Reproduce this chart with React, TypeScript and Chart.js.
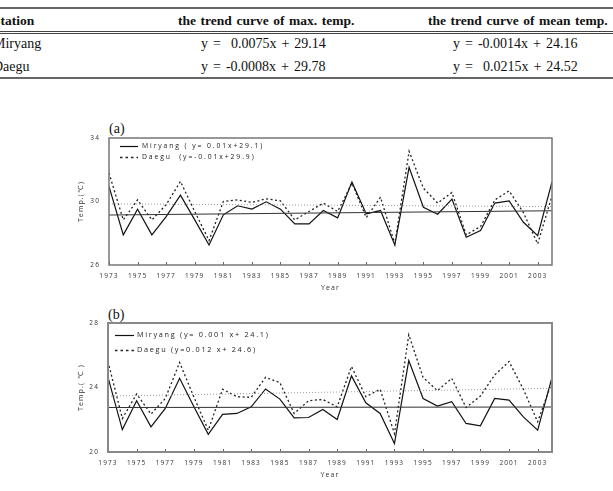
import React, { useEffect, useRef } from "react";
import { Chart, registerables } from "chart.js";
Chart.register(...registerables);

// ---------- data ----------
const years = [1973, 1974, 1975, 1976, 1977, 1978, 1979, 1980, 1981, 1982, 1983, 1984, 1985, 1986, 1987, 1988,
  1989, 1990, 1991, 1992, 1993, 1994, 1995, 1996, 1997, 1998, 1999, 2000, 2001, 2002, 2003, 2004];
const tickYears = [1973, 1975, 1977, 1979, 1981, 1983, 1985, 1987, 1989, 1991, 1993, 1995, 1997, 1999, 2001, 2003];

// (a) maximum temperature
const maxMiryang = [30.95, 27.9, 29.52, 27.9, 29.05, 30.4, 28.84, 27.26, 29.16, 29.73, 29.52, 29.98, 29.52, 28.59, 28.59, 29.43,
  28.97, 31.22, 29.22, 29.43, 27.26, 32.15, 29.64, 29.2, 30.15, 27.75, 28.17, 29.9, 30.04, 28.69, 27.85, 31.24];
const maxDaegu = [31.79, 28.84, 30.1, 28.84, 29.8, 31.26, 29.37, 27.54, 30.0, 30.1, 29.94, 30.17, 30.04, 28.84, 29.37, 29.9,
  29.37, 31.16, 28.99, 30.27, 27.33, 33.16, 30.84, 29.9, 30.57, 27.9, 28.42, 30.1, 30.67, 29.3, 27.33, 30.36];
const maxTrendMiryang = [29.15, 29.42]; // values at 1973 and 2004
const maxTrendDaegu = [29.85, 29.68];
const maxYTicks = [26, 30, 34];
const maxLegend = ["Miryang ( y= 0.01x+29.1)", "Daegu  (y=-0.01x+29.9)"];

// (b) mean temperature
const meanMiryang = [24.63, 21.39, 23.18, 21.56, 22.7, 24.57, 22.8, 21.1, 22.33, 22.39, 22.8, 23.91, 23.28, 22.12, 22.14, 22.64,
  22.02, 24.72, 23.05, 22.39, 20.52, 25.67, 23.32, 22.85, 23.12, 21.77, 21.62, 23.32, 23.22, 22.18, 21.35, 24.63];
const meanDaegu = [25.61, 22.08, 23.6, 22.35, 23.32, 25.55, 23.4, 21.35, 23.89, 23.43, 23.39, 24.63, 24.3, 22.39, 23.18, 23.26,
  22.8, 25.3, 23.43, 23.89, 21.14, 27.27, 24.63, 23.8, 24.57, 22.76, 23.47, 24.78, 25.61, 23.89, 21.87, 24.36];
const meanTrendMiryang = [22.76, 22.79];
const meanTrendDaegu = [23.47, 23.95];
const meanYTicks = [20, 24, 28];
const meanLegend = ["Miryang (y= 0.001 x+ 24.1)", "Daegu (y=0.012 x+ 24.6)"];

// table
const tableHeader = ["Station", "the trend curve of max. temp.", "the trend curve of mean temp."];
const tableRows = [
  ["Miryang", "y =  0.0075x + 29.14", "y = -0.0014x + 24.16"],
  ["Daegu", "y = -0.0008x + 29.78", "y =  0.0215x + 24.52"],
];

const FONT = '"Open Sans", "DejaVu Sans", sans-serif';

const decorPlugin = {
  id: "decor",
  beforeDraw(chart: any) {
    chart.ctx.letterSpacing = "1.1px";
  },
  afterDatasetsDraw(chart: any, _args: any, opts: any) {
    const { ctx, chartArea: ca, scales } = chart;
    ctx.save();
    ctx.letterSpacing = "0px";
    ctx.strokeStyle = "#666";
    ctx.lineWidth = 1;
    ctx.setLineDash([]);
    for (const v of tickYears) {
      const x = Math.round(scales.x.getPixelForValue(v)) + 0.5;
      ctx.beginPath();
      ctx.moveTo(x, ca.bottom);
      ctx.lineTo(x, ca.bottom - 3);
      ctx.stroke();
    }
    ctx.strokeStyle = opts.frameColor;
    ctx.lineWidth = opts.frameWidth;
    ctx.strokeRect(ca.left, ca.top, ca.right - ca.left, ca.bottom - ca.top);

    ctx.letterSpacing = opts.legendSpacing;
    ctx.font = `${opts.legendSize}px ${FONT}`;
    ctx.fillStyle = "#222";
    ctx.textBaseline = "middle";
    ctx.textAlign = "left";
    chart.data.datasets.forEach((ds: any) => {
      if (ds.legendRow === undefined) return;
      const y = ca.top + opts.rowY[ds.legendRow];
      ctx.strokeStyle = ds.borderColor;
      ctx.lineWidth = ds.borderWidth;
      ctx.setLineDash(ds.legendDash || []);
      ctx.beginPath();
      ctx.moveTo(ca.left + opts.sampleX[0], y + 0.5);
      ctx.lineTo(ca.left + opts.sampleX[1], y + 0.5);
      ctx.stroke();
      ctx.setLineDash([]);
      ctx.fillText(ds.label, ca.left + opts.textX, y);
    });
    ctx.restore();
  },
  afterDraw(chart: any) {
    chart.ctx.letterSpacing = "0px";
  },
};

type PanelProps = {
  left: number; top: number; width: number; height: number;
  padTop: number; padRight: number; yAxisWidth: number; xAxisHeight: number;
  miryang: number[]; daegu: number[]; trendM: number[]; trendD: number[];
  yTicks: number[]; legend: string[]; yTitle: string;
  xTickPad: number; xTitlePad: number; yTitlePad: number;
  legendOpts: any; frameWidth: number; frameColor: string;
};

function Panel(p: PanelProps) {
  const ref = useRef<HTMLCanvasElement | null>(null);
  useEffect(() => {
    if (!ref.current) return;
    const pts = (arr: number[]) => arr.map((v, i) => ({ x: years[i], y: v }));
    const trend = (arr: number[]) => [{ x: years[0], y: arr[0] }, { x: years[years.length - 1], y: arr[1] }];
    const chart = new Chart(ref.current, {
      type: "line",
      data: {
        datasets: [
          { label: "trend D", data: trend(p.trendD), borderColor: "#9a9a9a", borderWidth: 1, borderDash: [1, 2], pointRadius: 0 },
          { label: "trend M", data: trend(p.trendM), borderColor: "#333", borderWidth: 1.1, pointRadius: 0 },
          { label: p.legend[1], data: pts(p.daegu), borderColor: "#222", borderWidth: 1.3, borderDash: [2, 2.5], pointRadius: 0, tension: 0, legendRow: 1, legendDash: [2.5, 3] } as any,
          { label: p.legend[0], data: pts(p.miryang), borderColor: "#111", borderWidth: 1.2, pointRadius: 0, tension: 0, legendRow: 0 } as any,
        ],
      },
      options: {
        responsive: false,
        animation: false,
        devicePixelRatio: 1,
        layout: { padding: { top: p.padTop, right: p.padRight, left: 0, bottom: 0 } },
        plugins: {
          legend: { display: false },
          tooltip: { enabled: false },
          decor: { ...p.legendOpts, frameWidth: p.frameWidth, frameColor: p.frameColor },
        } as any,
        scales: {
          x: {
            type: "linear",
            min: years[0],
            max: years[years.length - 1],
            afterBuildTicks: (s: any) => { s.ticks = tickYears.map((v) => ({ value: v })); },
            afterFit: (s: any) => { s.height = p.xAxisHeight; },
            grid: { display: false, drawTicks: false },
            border: { display: false },
            ticks: {
              autoSkip: false, maxRotation: 0, padding: p.xTickPad,
              font: { family: FONT, size: 6.5 }, color: "#333",
              callback: (v: any) => String(v),
            },
            title: { display: true, text: "Year", font: { family: FONT, size: 7 }, color: "#333", padding: { top: 0, bottom: p.xTitlePad } },
          },
          y: {
            type: "linear",
            min: p.yTicks[0],
            max: p.yTicks[p.yTicks.length - 1],
            afterBuildTicks: (s: any) => { s.ticks = p.yTicks.map((v) => ({ value: v })); },
            afterFit: (s: any) => { s.width = p.yAxisWidth; },
            grid: { display: false, drawTicks: false },
            border: { display: false },
            ticks: { padding: 9, font: { family: FONT, size: 6.5 }, color: "#333" },
            title: { display: true, text: p.yTitle, font: { family: FONT, size: 7 }, color: "#333", padding: { top: p.yTitlePad, bottom: 0 } },
          },
        } as any,
      },
      plugins: [decorPlugin as any],
    });
    return () => chart.destroy();
  }, []);
  return (
    <canvas
      ref={ref}
      width={p.width}
      height={p.height}
      style={{ position: "absolute", left: p.left, top: p.top, width: p.width, height: p.height }}
    />
  );
}

const serif = '"Liberation Serif", "Times New Roman", serif';

export default function App() {
  const cell = (text: string, left: number, top: number, bold = false) => (
    <div
      key={`${text}-${left}-${top}`}
      style={{
        position: "absolute", left, top, fontFamily: serif, fontSize: bold ? 13.5 : 14, lineHeight: "16px",
        fontWeight: bold ? "bold" : "normal", whiteSpace: "pre", color: "#111",
        wordSpacing: bold ? 1.2 : 1.5,
      }}
    >
      {text}
    </div>
  );
  const colX = [-7, 178, 428];
  const rowColX = [-7, 201, 453];
  const rowTops = [36.3, 59];
  return (
    <div style={{ position: "absolute", left: 0, top: 0, width: 613, height: 491, background: "#fff", overflow: "hidden" }}>
      {/* table */}
      <div style={{ position: "absolute", left: 0, top: 6.5, width: 613, height: 2, background: "#666" }} />
      {tableHeader.map((h, i) => cell(h, colX[i], 12.6, true))}
      <div style={{ position: "absolute", left: 0, top: 30.5, width: 613, height: 0, borderTop: "3px double #444" }} />
      {tableRows.map((r, ri) => r.map((t, ci) => cell(t, rowColX[ci], rowTops[ri])))}
      <div style={{ position: "absolute", left: 0, top: 76.8, width: 613, height: 2, background: "#666" }} />

      {/* panel labels */}
      <div style={{ position: "absolute", left: 109, top: 120.8, fontFamily: serif, fontSize: 14, lineHeight: "16px", color: "#111" }}>(a)</div>
      <div style={{ position: "absolute", left: 108, top: 306.8, fontFamily: serif, fontSize: 14, lineHeight: "16px", color: "#111" }}>(b)</div>

      <Panel
        left={70} top={110} width={510} height={190}
        padTop={28} padRight={28} yAxisWidth={39} xAxisHeight={35}
        miryang={maxMiryang} daegu={maxDaegu} trendM={maxTrendMiryang} trendD={maxTrendDaegu}
        yTicks={maxYTicks} legend={maxLegend} yTitle="Temp.(℃)"
        xTickPad={7} xTitlePad={8} yTitlePad={7}
        legendOpts={{ rowY: [8, 19], sampleX: [11, 29], textX: 33, legendSize: 6.8, legendSpacing: "1.9px" }}
        frameWidth={1.5} frameColor="#777"
      />
      <Panel
        left={70} top={300} width={510} height={190}
        padTop={23} padRight={28} yAxisWidth={38} xAxisHeight={38}
        miryang={meanMiryang} daegu={meanDaegu} trendM={meanTrendMiryang} trendD={meanTrendDaegu}
        yTicks={meanYTicks} legend={meanLegend} yTitle="Temp.( ℃ )"
        xTickPad={7.5} xTitlePad={11} yTitlePad={7}
        legendOpts={{ rowY: [12, 27], sampleX: [7, 26], textX: 29, legendSize: 7.3, legendSpacing: "1.7px" }}
        frameWidth={2} frameColor="#888"
      />
    </div>
  );
}
